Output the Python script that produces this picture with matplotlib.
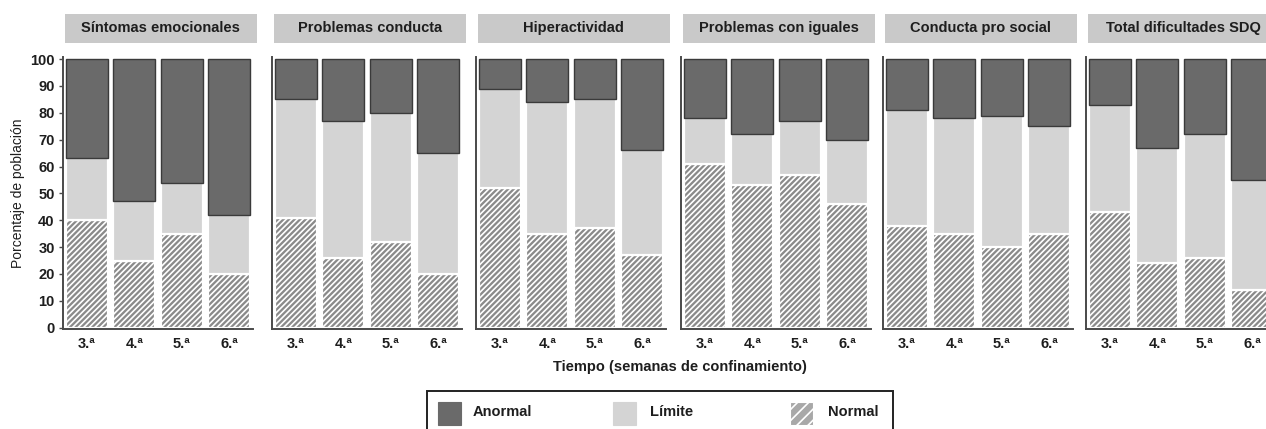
import matplotlib
matplotlib.use("Agg")
import matplotlib.pyplot as plt
from matplotlib.patches import Rectangle
import numpy as np

plt.rcParams['font.family'] = ['Liberation Sans', 'DejaVu Sans']

weeks = ["3.ª", "4.ª", "5.ª", "6.ª"]
panels = ["Síntomas emocionales", "Problemas conducta", "Hiperactividad",
          "Problemas con iguales", "Conducta pro social", "Total dificultades SDQ"]

normal_sintomas = [40, 25, 35, 20]
limite_sintomas = [23, 22, 19, 22]
anormal_sintomas = [37, 53, 46, 58]

normal_conducta = [41, 26, 32, 20]
limite_conducta = [44, 51, 48, 45]
anormal_conducta = [15, 23, 20, 35]

normal_hiper = [52, 35, 37, 27]
limite_hiper = [37, 49, 48, 39]
anormal_hiper = [11, 16, 15, 34]

normal_iguales = [61, 53, 57, 46]
limite_iguales = [17, 19, 20, 24]
anormal_iguales = [22, 28, 23, 30]

normal_prosocial = [38, 35, 30, 35]
limite_prosocial = [43, 43, 49, 40]
anormal_prosocial = [19, 22, 21, 25]

normal_total = [43, 24, 26, 14]
limite_total = [40, 43, 46, 41]
anormal_total = [17, 33, 28, 45]

data = [
    (normal_sintomas, limite_sintomas, anormal_sintomas),
    (normal_conducta, limite_conducta, anormal_conducta),
    (normal_hiper, limite_hiper, anormal_hiper),
    (normal_iguales, limite_iguales, anormal_iguales),
    (normal_prosocial, limite_prosocial, anormal_prosocial),
    (normal_total, limite_total, anormal_total),
]

C_ANORMAL = '#6a6a6a'
C_LIMITE = '#d4d4d4'
C_NORMAL = '#8a8a8a'
C_BOX = '#c9c9c9'
C_TEXT = '#1e1e1e'
C_SPINE = '#4a4a4a'

W, H = 1266, 429
fig = plt.figure(figsize=(W / 100, H / 100), dpi=100)
plt.rcParams['hatch.linewidth'] = 1.2

lefts_px = [63, 272, 476, 681, 883, 1086]
ax_w_px = 190
ax_top_px = 57
ax_bot_px = 329

for i, (left, title, (nrm, lim, anr)) in enumerate(zip(lefts_px, panels, data)):
    ax = fig.add_axes([left / W, (H - ax_bot_px) / H, ax_w_px / W,
                       (ax_bot_px - ax_top_px) / H])
    x = np.arange(len(weeks))
    nrm = np.array(nrm, float)
    lim = np.array(lim, float)
    anr = np.array(anr, float)
    bw = 0.88
    ax.bar(x, nrm, bw, color=C_NORMAL, edgecolor='white', hatch='//////', linewidth=1.6)
    ax.bar(x, lim, bw, bottom=nrm, color=C_LIMITE, edgecolor='white', linewidth=1.6)
    ax.bar(x, anr, bw, bottom=nrm + lim, color=C_ANORMAL, edgecolor='#3a3a3a', linewidth=1.0)
    ax.set_xlim(-0.5, 3.5)
    ax.set_ylim(-0.5, 100.8)
    ax.set_xticks(x)
    ax.set_xticklabels(weeks, fontsize=10.5, fontweight='bold', color=C_TEXT)
    ax.tick_params(axis='x', length=0, pad=6)
    for s in ['top', 'right']:
        ax.spines[s].set_visible(False)
    for s in ['left', 'bottom']:
        ax.spines[s].set_color(C_SPINE)
        ax.spines[s].set_linewidth(1.4)
    if i == 0:
        ax.set_yticks(np.arange(0, 101, 10))
        ax.set_yticklabels([str(v) for v in range(0, 101, 10)], fontsize=10.5,
                           fontweight='bold', color=C_TEXT)
        ax.tick_params(axis='y', length=3, width=1, color=C_SPINE, pad=3)
        ax.set_ylabel("Porcentaje de población", fontsize=10, color=C_TEXT, labelpad=4)
    else:
        ax.set_yticks([])
    # title box
    hpx = ax_bot_px - ax_top_px
    y0 = 1 + 14 / hpx
    y1 = 1 + 43 / hpx
    ax.add_patch(Rectangle((0.01, y0), 1.01, y1 - y0, transform=ax.transAxes,
                           facecolor=C_BOX, edgecolor='none', clip_on=False))
    ax.text(0.515, (y0 + y1) / 2, title, transform=ax.transAxes, ha='center',
            va='center', fontsize=10.5, fontweight='bold', color=C_TEXT)

fig.text(680 / W, 1 - 367 / H, "Tiempo (semanas de confinamiento)", ha='center',
         va='center', fontsize=10.5, fontweight='bold', color=C_TEXT)

# legend box (extends past the bottom edge as in the reference)
fig.add_artist(Rectangle((427 / W, -20 / H), (893 - 427) / W, (20 + 429 - 391) / H,
                         transform=fig.transFigure, facecolor='white',
                         edgecolor='#222222', linewidth=1.4))
legend_items = [("Anormal", C_ANORMAL, None, 438, 473),
                ("Límite", C_LIMITE, None, 613, 650),
                ("Normal", '#a8a8a8', '///', 790, 828)]
for label, col, hatch, px, tx in legend_items:
    fig.add_artist(Rectangle((px / W, 1 - 425 / H), 23 / W, 23 / H,
                             transform=fig.transFigure, facecolor=col,
                             edgecolor='white' if hatch else col, hatch=hatch,
                             linewidth=0.8))
    fig.text(tx / W, 1 - 412 / H, label, ha='left', va='center', fontsize=10.5,
             fontweight='bold', color=C_TEXT)

fig.savefig("out.png", dpi=100)
